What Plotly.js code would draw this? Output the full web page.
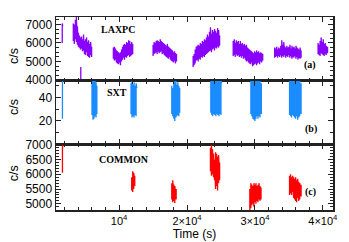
<!DOCTYPE html>
<html><head><meta charset="utf-8">
<script src="https://cdn.plot.ly/plotly-3.0.1.min.js"></script>
<style>html,body{margin:0;padding:0;background:#fff;}#plot{width:349px;height:242px;}</style>
</head><body><div id="plot"></div>
<script>
// LAXPC light curve: time (s), lower and upper envelope of the noisy band (c/s); null separates gaps
var laxT  = [1620,1700,null,
  3250,3400,3550,3700,3850,4000,4150,4300,4450,4600,4750,4900,5050,5200,5350,5500,5650,5800,5950,null,
  4350,null,
  9150,9300,9450,9600,9750,9900,10050,10200,10350,10500,10650,10800,10950,11100,11250,11400,11550,11700,11850,12000,null,
  15000,15150,15300,15450,15600,15750,15900,16050,16200,16350,16500,16650,16800,16950,17100,17250,17400,17550,17700,17850,18000,18150,18300,18450,null,
  20900,21050,21200,21350,21500,21650,21800,21950,22100,22250,22400,22550,22700,22850,23000,23150,23300,23450,23600,23750,23900,24050,24200,24350,24500,24650,24800,null,
  26800,26950,27100,27250,27400,27550,27700,27850,28000,28150,28300,28450,28600,28750,28900,29050,29200,29350,29500,29650,29800,29950,30100,30250,30400,30550,30700,30850,31000,31150,null,
  32900,33050,33200,33350,33500,33650,33800,33950,34100,34250,34400,34550,34700,34850,35000,35150,35300,35450,35600,35750,35900,36050,36200,36350,36500,36650,36800,null,
  39300,39450,39600,39750,39900,40050,40200,40350,40500,40700];
var laxLo = [6000,6100,null,
  6100,5950,6200,6050,5900,5800,5750,5650,5700,5550,5600,5400,5350,5500,5300,5250,5200,5350,5250,null,
  3950,null,
  5150,5050,5100,4950,4900,4850,4950,4800,5000,5100,5200,5100,5250,5200,5300,5350,5250,5300,5350,5400,null,
  5300,5400,5450,5500,5400,5550,5450,5500,5550,5400,5450,5350,5300,5250,5200,5150,5250,5100,5050,5000,4950,5050,4900,5000,null,
  4700,4800,4900,5050,5100,5000,5150,5100,5250,5200,5300,5250,5350,5400,5450,5500,5550,5600,5500,5650,5700,5600,5750,5700,5800,5750,5850,null,
  5300,5350,5250,5400,5300,5350,5250,5300,5200,5300,5150,5200,5100,5000,5050,4950,4900,4850,4950,4750,4800,4850,4900,4800,4900,4950,4850,5000,4950,5050,null,
  5200,5250,5300,5200,5300,5250,5350,5200,5300,5250,5350,5200,5300,5250,5350,5200,5300,5150,5250,5200,5300,5150,5250,5100,5200,5150,5200,null,
  5400,5350,5300,5450,5400,5350,5300,5400,5350,5450];
var laxHi = [7050,6900,null,
  7050,7000,7250,7400,6900,6550,6400,6300,6350,6200,6450,6100,6200,6300,6050,6150,5950,6050,5800,null,
  4700,null,
  5750,5800,5700,5600,5550,5500,5450,5500,5650,5800,5900,5950,5900,6050,6000,6150,6100,5950,6050,5950,null,
  5900,6050,6000,6100,6150,6100,6050,6200,6100,6050,6000,5950,5900,5850,5950,5800,5750,5700,5650,5600,5500,5550,5450,5400,null,
  5300,5400,5650,5800,5850,5900,5850,6000,5950,6100,6050,6200,6150,6300,6450,6350,6600,6850,6500,6700,6600,6750,6650,6550,6800,6700,6400,null,
  6100,6200,6000,6150,6050,6100,5950,6100,5950,6000,5900,5950,5850,5900,5750,5700,5650,5600,5550,5500,5450,5550,5500,5600,5500,5550,5450,5500,5450,5400,null,
  5750,5700,5800,5650,5750,5700,5850,6150,5900,6050,5800,5750,5850,5750,5800,5900,5700,5850,5750,5800,5700,5850,5750,5700,5650,5750,5600,null,
  6000,5900,6100,6300,6050,6200,5950,6000,5850,5800];

// SXT light curve (c/s)
var sxtT  = [1650,1700,null,
  6000,6150,6300,6450,6600,6720,null,
  11750,11900,12050,12200,12350,12500,12600,null,
  17750,17900,18050,18200,18350,18500,18650,18800,18920,null,
  23500,23650,23800,23950,24100,24250,24400,24550,24700,24850,25000,25100,null,
  29400,29550,29700,29850,30000,30150,30300,30450,30600,30750,30950,null,
  35100,35250,35400,35550,35700,35850,36000,36150,36300,36450,36600,36800];
var sxtLo = [22,24,null,
  25,21,22,24,23,26,null,
  26,23,24,23,25,24,27,null,
  26,24,22,20,23,24,25,24,27,null,
  27,25,24,26,25,24,26,25,24,26,25,28,null,
  26,24,22,21,20,22,24,22,24,23,26,null,
  25,24,23,25,24,23,22,24,21,23,24,26];
var sxtHi = [58,58,null,
  56,57,55,56,53,50,null,
  52,54,51,53,50,52,48,null,
  50,48,52,57,55,51,53,50,48,null,
  54,57,56,57,56,57,55,57,56,55,56,52,null,
  55,57,56,55,57,56,55,56,55,54,52,null,
  56,57,55,56,57,55,56,55,56,55,54,52];

// COMMON light curve (c/s)
var comT  = [1650,1700,null,
  11850,12000,12150,12300,null,
  17750,17900,18050,18200,18400,null,
  23450,23600,23750,23900,24050,24200,24350,24500,24650,24800,null,
  29250,29400,29550,29700,29850,30000,30150,30300,30450,30600,30750,30900,null,
  35100,35250,35400,35550,35700,35850,36000,36150,36300,36450,36600,36800];
var comLo = [6050,6200,null,
  5450,5400,5500,5600,null,
  5150,5050,5100,5030,5150,null,
  6100,5950,6000,5900,5800,5500,5600,5450,5700,5800,null,
  4780,4850,4950,5000,4900,5050,5000,5100,5050,5150,5100,5150,null,
  5300,5350,5300,5400,5200,5150,5100,5050,5200,5100,5150,5250];
var comHi = [7000,6900,null,
  5900,6100,6050,5950,null,
  5700,5800,5650,5600,5500,null,
  6900,7000,6850,6700,6500,6750,6700,6600,6650,6400,null,
  5500,5700,5650,5600,5700,5650,5700,5600,5650,5700,5600,5550,null,
  5950,6000,5900,5950,5900,5850,5900,5800,5850,5750,5700,5650];

var xTickVals = [10000,20000,30000,40000];
var xTickText = ['10<sup>4</sup>','2×10<sup>4</sup>','3×10<sup>4</sup>','4×10<sup>4</sup>'];
var laxTicks = [4000,5000,6000,7000];
var sxtTicks = [20,40];
var comTicks = [5000,5500,6000,6500,7000];

function zig(T, Lo, Hi){
  var x=[], y=[];
  for (var i=0;i<T.length;i++){
    if (T[i]===null){ x.push(null); y.push(null); }
    else { x.push(T[i],T[i]); y.push(Lo[i],Hi[i]); }
  }
  return {x:x, y:y};
}
var a = zig(laxT,laxLo,laxHi), b = zig(sxtT,sxtLo,sxtHi), c = zig(comT,comLo,comHi);

var traces = [
  {x:a.x, y:a.y, xaxis:'x', yaxis:'y', type:'scatter', mode:'lines', line:{color:'#8800ff', width:1.3}, connectgaps:false, hoverinfo:'skip'},
  {x:b.x, y:b.y, xaxis:'x2', yaxis:'y2', type:'scatter', mode:'lines', line:{color:'#1a8cff', width:1.3}, connectgaps:false, hoverinfo:'skip'},
  {x:c.x, y:c.y, xaxis:'x3', yaxis:'y3', type:'scatter', mode:'lines', line:{color:'#ff0000', width:1.3}, connectgaps:false, hoverinfo:'skip'}
];

var lc = '#222';
var tickFont = {family:'Liberation Sans, Arial, sans-serif', size:12, color:'#000'};
function xax(anchor, labels){
  return {anchor:anchor, range:[700,41500], showline:true, mirror:'allticks', linecolor:lc, linewidth:1.5,
    ticks:'inside', ticklen:5, tickwidth:1, tickcolor:lc, tickmode:'array', tickvals:xTickVals, ticktext:xTickText,
    showticklabels:labels, tickfont:{family:'Liberation Sans, Arial, sans-serif', size:11, color:'#000'},
    showgrid:false, zeroline:false,
    minor:{tickmode:'linear', tick0:0, dtick:2000, ticks:'inside', ticklen:3, tickcolor:lc, showgrid:false}};
}
function yax(domain, range, vals, minorD){
  return {domain:domain, range:range, showline:true, mirror:'allticks', linecolor:lc, linewidth:1.5,
    ticks:'inside', ticklen:5, tickwidth:1, tickcolor:lc, tickmode:'array', tickvals:vals,
    tickfont:tickFont, showgrid:false, zeroline:false,
    minor:{tickmode:'linear', tick0:0, dtick:minorD, ticks:'inside', ticklen:3, tickcolor:lc, showgrid:false}};
}
var xa3 = xax('y3', true);
xa3.title = {text:'Time (s)', font:{family:'Liberation Sans, Arial, sans-serif', size:12, color:'#000'}, standoff:2};

var serif = {family:'Liberation Serif, Times New Roman, serif', size:10, color:'#000'};
function lab(t,x,y){ return {text:'<b>'+t+'</b>', xref:'paper', yref:'paper', x:x, y:y, xanchor:'center', yanchor:'middle', showarrow:false, font:serif}; }
function ytl(y){ return {text:'c/s', xref:'paper', yref:'paper', x:-0.1516, y:y, xanchor:'center', yanchor:'middle', textangle:-90, showarrow:false, font:{family:'Liberation Sans, Arial, sans-serif', size:12.5, color:'#000'}}; }

var layout = {
  width:349, height:242, margin:{l:56, r:16, t:17, b:32}, showlegend:false,
  paper_bgcolor:'#fff', plot_bgcolor:'#fff',
  xaxis: xax('y', false),
  xaxis2: xax('y2', false),
  xaxis3: xa3,
  yaxis: yax([0.6684,1], [3950,7400], laxTicks, 250),
  yaxis2: yax([0.3394,0.6684], [0,54], sxtTicks, 10),
  yaxis3: yax([0,0.3394], [4790,7010], comTicks, 100),
  annotations:[
    lab('LAXPC',0.2231,0.9342), lab('(a)',0.918,0.7513),
    lab('SXT',0.2202,0.6088), lab('(b)',0.9193,0.4197),
    lab('COMMON',0.2455,0.2642), lab('(c)',0.917,0.0933),
    ytl(0.798), ytl(0.534), ytl(0.19)
  ]
};
Plotly.newPlot('plot', traces, layout, {staticPlot:true, displayModeBar:false});
</script></body></html>
